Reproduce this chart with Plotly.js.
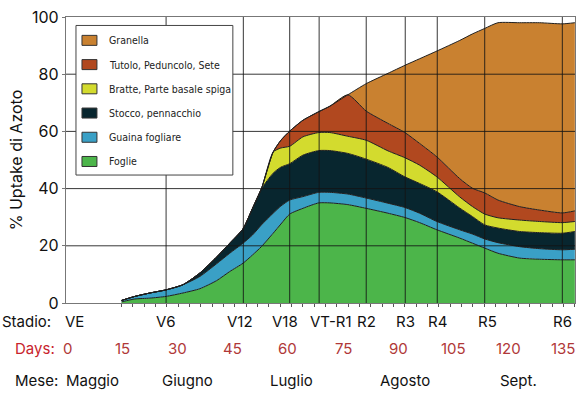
<!DOCTYPE html>
<html>
<head>
<meta charset="utf-8">
<script src="https://cdn.plot.ly/plotly-3.0.1.min.js"></script>
<style>
  html, body { margin: 0; padding: 0; background: #fff; }
  #chart { width: 583px; height: 408px; }
</style>
</head>
<body>
<div id="chart"></div>
<script>
// Assorbimento di azoto del mais per organo, % del totale a maturazione

// giorni dalla semina (asse x)
const days = [14.8, 18.4, 22.5, 26.9, 31.5, 36.1, 40.6, 44.2, 47.8, 50.4, 52.8, 56.0, 58.1, 60.5, 64.1,
  68.4, 71.4, 76.3, 81.3, 87.2, 91.8, 95.8, 100.5, 106.7, 110.2, 113.5, 117.1, 123.0, 128.4, 134.6, 138.0];

// quota di ogni organo (impilate dal basso)
const foglie   = [0.4, 1.4, 1.7, 2.3, 3.5, 5.0, 7.8, 11.0, 13.9, 16.8, 19.7, 24.4, 27.6, 31.1, 33.1,
  35.0, 35.0, 34.4, 33.1, 31.4, 29.9, 28.1, 25.6, 22.7, 20.9, 19.2, 17.4, 15.7, 15.3, 15.1, 15.1];
const guaina   = [0.5, 0.9, 1.8, 2.3, 2.9, 4.3, 5.9, 6.4, 7.0, 7.0, 7.6, 7.0, 6.3, 4.9, 4.1,
  3.7, 3.7, 3.7, 3.6, 3.5, 3.5, 3.3, 2.9, 2.9, 3.2, 3.2, 3.7, 4.0, 3.7, 3.5, 3.7];
const stocco   = [0, 0, 0, 0, 0, 1.2, 2.3, 3.5, 5.0, 9.3, 12.6, 14.0, 13.6, 12.7, 14.5,
  14.6, 14.6, 14.2, 13.6, 12.5, 10.7, 10.4, 10.4, 7.6, 6.1, 4.9, 5.1, 5.3, 5.6, 5.8, 6.2];
const bratte   = [0, 0, 0, 0, 0, 0, 0, 0, 0, 0, 0, 7.4, 6.7, 6.1, 6.4,
  6.3, 6.3, 6.0, 6.6, 5.8, 6.7, 6.4, 5.2, 3.9, 3.5, 3.8, 3.6, 4.0, 3.9, 3.7, 3.5];
const tutolo   = [0, 0, 0, 0, 0, 0, 0, 0, 0, 0, 0, 0, 2.7, 5.3, 5.8,
  7.3, 9.2, 14.5, 10.2, 9.6, 8.8, 7.6, 7.0, 6.4, 6.4, 7.4, 6.2, 4.7, 4.0, 3.4, 3.7];
const granella = [0, 0, 0, 0, 0, 0, 0, 0, 0, 0, 0, 0, 0, 0, 0,
  0, 0, 0, 9.6, 17.5, 23.5, 29.6, 37.0, 48.3, 54.0, 57.5, 62.0, 64.3, 65.5, 66.1, 65.8];

const layerNames = ['Foglie', 'Guaina fogliare', 'Stocco, pennacchio',
  'Bratte, Parte basale spiga', 'Tutolo, Peduncolo, Sete', 'Granella'];
const layerValues = [foglie, guaina, stocco, bratte, tutolo, granella];
const layerColors = ['#4cb54a', '#3aa0c6', '#08262f', '#d3db2e', '#b1481f', '#c98130'];

// stadi fenologici
const stageNames = ['VE', 'V6', 'V12', 'V18', 'VT-R1', 'R2', 'R3', 'R4', 'R5', 'R6'];
const stageDays  = [2.0, 26.9, 47.9, 60.5, 68.5, 81.3, 91.9, 100.6, 113.5, 134.6];
const dayTicks   = [0, 15, 30, 45, 60, 75, 90, 105, 120, 135];
const monthNames = ['Maggio', 'Giugno', 'Luglio', 'Agosto', 'Sept.'];
const monthDays  = [6.9, 32.8, 61.1, 91.7, 122.7];

const FONT = 'Inter, "Open Sans", sans-serif';
const LEG_FONT = '"Liberation Sans Narrow", "Arial Narrow", "DejaVu Sans Condensed", sans-serif';

const data = layerNames.map((name, i) => ({
  x: days,
  y: layerValues[i],
  name: name,
  type: 'scatter',
  mode: 'lines',
  stackgroup: 'n',
  fillcolor: layerColors[i],
  line: { color: '#1f1f1f', width: 1, shape: 'spline', smoothing: 0.6 },
  showlegend: false,
  hoverinfo: 'skip'
}));

// piccole tacche sull'asse x, solo dove inizia la curva
const minorTicks = [];
for (let d = 14.8; d <= 138.1; d += 3.08) minorTicks.push(+d.toFixed(2));

const shapes = [];
// griglia sopra le aree
[20, 40, 60, 80].forEach(v => shapes.push({
  type: 'line', xref: 'paper', yref: 'y', x0: 0, x1: 1, y0: v, y1: v,
  line: { color: 'rgba(20,20,20,0.85)', width: 1 }, layer: 'above'
}));
stageDays.slice(1).forEach(d => shapes.push({
  type: 'line', xref: 'x', yref: 'paper', x0: d, x1: d, y0: 0, y1: 1,
  line: { color: 'rgba(20,20,20,0.85)', width: 1 }, layer: 'above'
}));

// legenda in riquadro
const annotations = [];
shapes.push({
  type: 'rect', xref: 'paper', yref: 'paper', x0: 0.0196, x1: 0.3278, y0: 0.4474, y1: 0.9704,
  fillcolor: '#ffffff', line: { color: '#444', width: 1 }, layer: 'above'
});
const legendOrder = [5, 4, 3, 2, 1, 0];
legendOrder.forEach((li, row) => {
  const yc = 0.9183 - row * 0.0847;
  shapes.push({
    type: 'rect', xref: 'paper', yref: 'paper', x0: 0.0314, x1: 0.0608,
    y0: yc - 0.0175, y1: yc + 0.0175,
    fillcolor: layerColors[li], line: { color: '#333', width: 1 }, layer: 'above'
  });
  annotations.push({
    xref: 'paper', yref: 'paper', x: 0.0805, y: yc, xanchor: 'left', yanchor: 'middle',
    text: layerNames[li], showarrow: false, font: { family: LEG_FONT, size: 10.5, color: '#222' }
  });
});

// righe sotto il grafico
const rowStage = -0.0652, rowDays = -0.1576, rowMonth = -0.2727;
const stageShift = { 'V12': -3.5, 'V18': -5, 'VT-R1': 11.5, 'R5': 3 };
annotations.push({ xref: 'paper', yref: 'paper', x: -0.1295, y: rowStage, xanchor: 'left', yanchor: 'middle',
  text: 'Stadio:', showarrow: false, font: { family: FONT, size: 15, color: '#111' } });
stageNames.forEach((s, i) => annotations.push({
  xref: 'x', yref: 'paper', x: stageDays[i], y: rowStage, xanchor: 'center', yanchor: 'middle',
  xshift: stageShift[s] || 0, text: s, showarrow: false, font: { family: FONT, size: 15, color: '#111' }
}));
annotations.push({ xref: 'paper', yref: 'paper', x: -0.1046, y: rowDays, xanchor: 'left', yanchor: 'middle',
  text: 'Days:', showarrow: false, font: { family: FONT, size: 15, color: '#c8232c' } });
dayTicks.forEach(d => annotations.push({
  xref: 'x', yref: 'paper', x: d, y: rowDays, xanchor: 'center', yanchor: 'middle',
  text: String(d), showarrow: false, font: { family: FONT, size: 15, color: '#b03838' }
}));
annotations.push({ xref: 'paper', yref: 'paper', x: -0.1046, y: rowMonth, xanchor: 'left', yanchor: 'middle',
  text: 'Mese:', showarrow: false, font: { family: FONT, size: 15, color: '#111' } });
monthNames.forEach((m, i) => annotations.push({
  xref: 'x', yref: 'paper', x: monthDays[i], y: rowMonth, xanchor: 'center', yanchor: 'middle',
  text: m, showarrow: false, font: { family: FONT, size: 15, color: '#111' }
}));

const layout = {
  width: 583,
  height: 408,
  margin: { l: 66, r: 7.5, t: 16.5, b: 104.7 },
  paper_bgcolor: '#ffffff',
  plot_bgcolor: '#ffffff',
  showlegend: false,
  font: { family: FONT, color: '#111' },
  xaxis: {
    range: [-0.3, 138.04],
    showgrid: false,
    zeroline: false,
    tickmode: 'array',
    tickvals: minorTicks,
    showticklabels: false,
    ticks: 'outside',
    ticklen: 3,
    tickcolor: '#555',
    showline: true,
    linecolor: '#777',
    linewidth: 1.2,
    mirror: true
  },
  yaxis: {
    range: [0, 100],
    showgrid: false,
    zeroline: false,
    tickvals: [0, 20, 40, 60, 80, 100],
    ticks: 'outside',
    ticklen: 3,
    tickcolor: '#777',
    tickfont: { family: FONT, size: 16, color: '#111' },
    showline: true,
    linecolor: '#777',
    linewidth: 1.2,
    mirror: true,
    title: { text: '% Uptake di Azoto', font: { family: FONT, size: 16, color: '#111' }, standoff: 5 }
  },
  shapes: shapes,
  annotations: annotations
};

Plotly.newPlot('chart', data, layout, { displayModeBar: false, staticPlot: true });
</script>
</body>
</html>
